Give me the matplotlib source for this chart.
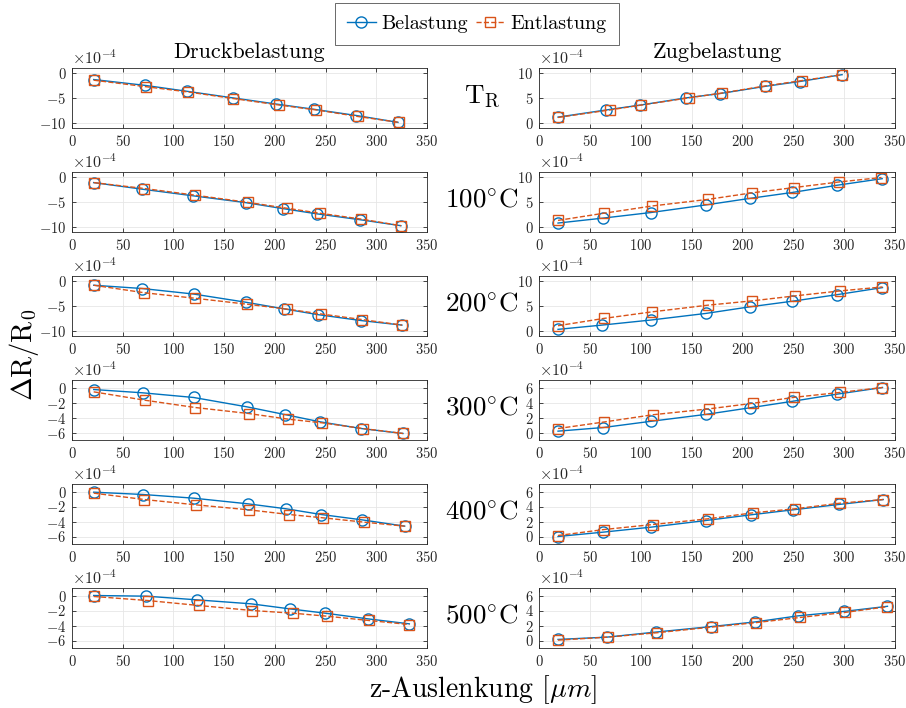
import matplotlib
matplotlib.use("Agg")
import matplotlib.pyplot as plt
import numpy as np
from matplotlib.lines import Line2D

plt.rcParams.update({
    "font.family": "serif",
    "font.serif": ["cmr10"],
    "mathtext.fontset": "cm",
    "axes.formatter.use_mathtext": True,
    "axes.unicode_minus": True,
})

SCALE = 1e-4  # values below are given in units of 1e-4

row_labels = [r"$\mathrm{T_R}$", r"$100^{\circ}\mathrm{C}$", r"$200^{\circ}\mathrm{C}$",
              r"$300^{\circ}\mathrm{C}$", r"$400^{\circ}\mathrm{C}$", r"$500^{\circ}\mathrm{C}$"]

# Druckbelastung (compression): z-deflection [um] and dR/R0 [1e-4]
druck_x_bel = [
    [21.4, 72.3, 113.4, 158.4, 201.4, 238.3, 280.3, 321.4],
    [21.4, 69.0, 118.9, 171.5, 207.9, 241.5, 284.2, 324.3],
    [21.4, 69.0, 119.9, 171.5, 208.7, 242.5, 284.9, 325.3],
    [21.4, 69.7, 119.9, 172.5, 209.6, 244.8, 285.2, 326.3],
    [21.4, 70.0, 119.9, 173.2, 211.3, 245.8, 285.9, 328.0],
    [21.4, 73.3, 123.2, 176.5, 214.6, 249.8, 291.5, 332.6],
]
druck_y_bel = [
    [-1.31, -2.48, -3.66, -4.97, -6.21, -7.25, -8.50, -9.87],
    [-1.12, -2.43, -3.75, -5.13, -6.32, -7.37, -8.55, -9.74],
    [-0.85, -1.50, -2.61, -4.25, -5.56, -6.73, -7.91, -8.82],
    [-0.27, -0.71, -1.33, -2.58, -3.60, -4.58, -5.47, -6.13],
    [-0.09, -0.40, -0.89, -1.64, -2.31, -3.07, -3.78, -4.62],
    [0.00, -0.09, -0.58, -1.11, -1.78, -2.36, -3.11, -3.78],
]
druck_x_ent = [
    [21.4, 73.3, 114.4, 158.7, 204.4, 240.9, 281.6, 322.0],
    [21.4, 71.3, 120.9, 173.2, 211.9, 244.2, 285.2, 324.3],
    [21.4, 71.3, 121.6, 172.5, 211.9, 245.8, 285.9, 325.3],
    [21.4, 71.6, 121.6, 174.2, 212.9, 246.5, 286.6, 326.3],
    [21.4, 71.3, 122.3, 174.2, 214.2, 247.5, 288.2, 328.0],
    [21.4, 74.6, 124.9, 177.5, 217.9, 251.4, 292.5, 332.6],
]
druck_y_ent = [
    [-1.44, -2.75, -3.79, -5.10, -6.41, -7.39, -8.69, -9.87],
    [-1.12, -2.30, -3.62, -5.07, -6.25, -7.24, -8.42, -9.74],
    [-0.85, -2.35, -3.46, -4.64, -5.62, -6.60, -7.71, -8.82],
    [-0.58, -1.69, -2.67, -3.47, -4.22, -4.71, -5.47, -6.13],
    [-0.22, -1.07, -1.78, -2.44, -3.07, -3.51, -4.09, -4.62],
    [-0.13, -0.67, -1.33, -2.00, -2.36, -2.76, -3.33, -3.87],
]

# Zugbelastung (tension)
zug_x_bel = [
    [18.7, 66.2, 99.7, 144.9, 177.7, 222.0, 256.4, 298.0],
    [18.7, 63.0, 109.8, 163.9, 207.2, 249.2, 293.4, 337.4],
    [18.7, 62.3, 109.8, 163.9, 207.2, 249.2, 293.4, 337.7],
    [18.7, 63.0, 109.8, 163.9, 207.2, 249.2, 293.4, 337.7],
    [18.7, 63.0, 109.8, 163.9, 208.2, 249.8, 294.8, 338.4],
    [18.7, 66.9, 115.4, 168.9, 212.8, 254.8, 300.0, 342.6],
]
zug_y_bel = [
    [1.18, 2.61, 3.59, 5.03, 5.88, 7.32, 8.30, 9.67],
    [0.79, 1.78, 2.89, 4.41, 5.72, 6.91, 8.36, 9.67],
    [0.33, 1.19, 2.19, 3.51, 4.83, 5.96, 7.28, 8.68],
    [0.18, 0.66, 1.49, 2.41, 3.29, 4.16, 5.12, 6.00],
    [0.00, 0.58, 1.24, 2.13, 2.89, 3.56, 4.27, 4.93],
    [0.14, 0.45, 1.13, 1.85, 2.48, 3.29, 3.88, 4.56],
]
zug_x_ent = [
    [18.7, 69.5, 100.7, 147.2, 180.3, 223.6, 259.0, 298.0],
    [18.7, 63.9, 111.5, 166.2, 209.8, 250.8, 295.1, 336.7],
    [18.7, 63.9, 111.5, 166.2, 209.8, 251.5, 295.7, 337.7],
    [18.7, 63.9, 112.1, 166.9, 210.5, 250.8, 295.7, 337.7],
    [18.7, 63.9, 112.1, 166.2, 210.5, 251.5, 295.7, 338.4],
    [18.7, 67.9, 116.4, 170.5, 213.8, 256.4, 300.7, 342.6],
]
zug_y_ent = [
    [1.11, 2.61, 3.59, 5.03, 6.01, 7.45, 8.50, 9.67],
    [1.32, 2.76, 4.21, 5.53, 6.84, 7.89, 9.01, 9.90],
    [1.06, 2.52, 3.84, 5.17, 6.03, 7.02, 8.01, 8.81],
    [0.53, 1.40, 2.37, 3.15, 3.90, 4.69, 5.34, 6.00],
    [0.13, 0.93, 1.60, 2.36, 3.16, 3.69, 4.44, 4.93],
    [0.05, 0.45, 1.04, 1.80, 2.39, 3.07, 3.74, 4.51],
]

# axis settings per row (in units of 1e-4)
druck_ylim = [(-11, 1), (-11, 1), (-11, 1), (-7, 1), (-7, 1), (-7, 1)]
druck_yticks = [[-10, -5, 0]] * 3 + [[-6, -4, -2, 0]] * 3
zug_ylim = [(-1, 11), (-1, 11), (-1, 11), (-1, 7), (-1, 7), (-1, 7)]
zug_yticks = [[0, 5, 10]] * 3 + [[0, 2, 4, 6]] * 3
xticks = [0, 50, 100, 150, 200, 250, 300, 350]

BLUE = "#0072BD"
ORANGE = "#D95319"

W, H = 906, 708
fig = plt.figure(figsize=(W / 100, H / 100), dpi=100)


def style_axes(ax, ylim, yticks):
    ax.set_xlim(0, 350)
    ax.set_xticks(xticks)
    ax.set_ylim(ylim[0] * SCALE, ylim[1] * SCALE)
    ax.set_yticks([t * SCALE for t in yticks])
    ax.ticklabel_format(axis="y", style="sci", scilimits=(-4, -4), useMathText=True)
    ax.yaxis.get_offset_text().set_fontsize(11.5)
    ax.tick_params(direction="in", top=True, right=True, length=3, width=0.6,
                   labelsize=10.5, colors="#262626", pad=4)
    ax.grid(True, color="#e6e6e6", linewidth=0.6)
    ax.set_axisbelow(True)
    for s in ax.spines.values():
        s.set_color("#262626")
        s.set_linewidth(0.6)


def plot_pair(ax, xb, yb, xe, ye):
    ax.plot(xb, np.array(yb) * SCALE, "-o", color=BLUE, lw=1.0, ms=8,
            mfc="none", mew=1.0)
    ax.plot(xe, np.array(ye) * SCALE, "--s", color=ORANGE, lw=1.0, ms=7,
            mfc="none", mew=1.0)


tops = [68, 172, 276, 380, 484, 588]
ax_h = 60
left_l, left_w = 72, 355
right_l, right_w = 539, 356

for i in range(6):
    b = 1 - (tops[i] + ax_h) / H
    axl = fig.add_axes([left_l / W, b, left_w / W, ax_h / H])
    axr = fig.add_axes([right_l / W, b, right_w / W, ax_h / H])
    plot_pair(axl, druck_x_bel[i], druck_y_bel[i], druck_x_ent[i], druck_y_ent[i])
    plot_pair(axr, zug_x_bel[i], zug_y_bel[i], zug_x_ent[i], zug_y_ent[i])
    style_axes(axl, druck_ylim[i], druck_yticks[i])
    style_axes(axr, zug_ylim[i], zug_yticks[i])
    fig.text(482 / W, 1 - (tops[i] + 29) / H, row_labels[i], fontsize=19.5,
             ha="center", va="center")
    if i == 0:
        axl.set_title("Druckbelastung", fontsize=16, pad=7)
        axr.set_title("Zugbelastung", fontsize=16, pad=7)

fig.text(24 / W, 1 - 355 / H, r"$\Delta\mathrm{R}/\mathrm{R}_0$", fontsize=20.5,
         rotation=90, ha="center", va="center")
fig.text(483 / W, 1 - 690 / H, r"z-Auslenkung [$\mu m$]", fontsize=20,
         ha="center", va="center")

handles = [
    Line2D([], [], color=BLUE, ls="-", marker="o", ms=8, mfc="none", lw=1.0),
    Line2D([], [], color=ORANGE, ls="--", marker="s", ms=7, mfc="none", lw=1.0),
]
leg = fig.legend(handles, ["Belastung", "Entlastung"], loc="center",
                 bbox_to_anchor=(477 / W, 1 - 24 / H), ncol=2, fontsize=14.5,
                 frameon=True, fancybox=False, edgecolor="#262626",
                 handlelength=1.4, handletextpad=0.3, columnspacing=0.4,
                 borderpad=0.6, borderaxespad=0)
leg.get_frame().set_linewidth(0.6)

fig.savefig("out.png", dpi=100, facecolor="white")
